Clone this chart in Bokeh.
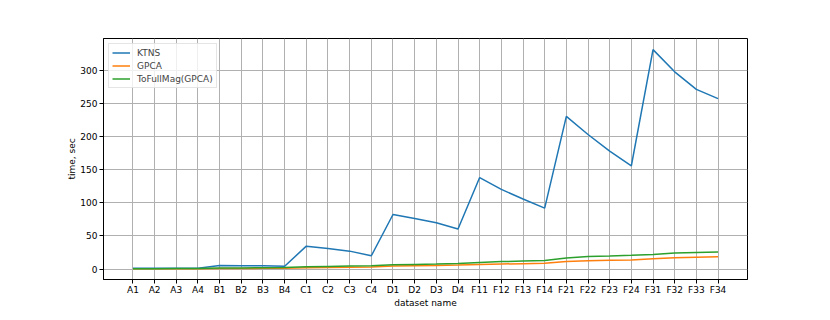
from bokeh.plotting import figure
from bokeh.models import FactorRange, Range1d, FixedTicker, Legend, LegendItem
from bokeh.embed import file_html
from bokeh.resources import INLINE

datasets = ["A1", "A2", "A3", "A4", "B1", "B2", "B3", "B4",
            "C1", "C2", "C3", "C4", "D1", "D2", "D3", "D4",
            "F11", "F12", "F13", "F14", "F21", "F22", "F23", "F24",
            "F31", "F32", "F33", "F34"]
ktns = [1.0, 1.0, 1.0, 1.0, 5.5, 5.0, 4.8, 4.3,
        34.5, 30.8, 27.0, 20.0, 82.3, 76.3, 69.9, 60.3,
        138.0, 120.2, 105.6, 91.8, 230.2, 203.0, 178.0, 155.8,
        331.0, 297.5, 271.0, 257.0]
gpca = [0.3, 0.3, 0.4, 0.4, 0.8, 0.9, 1.0, 1.1,
        2.0, 2.3, 2.6, 3.0, 4.5, 5.0, 5.5, 6.0,
        7.0, 7.6, 8.1, 8.6, 11.2, 12.5, 13.2, 13.7,
        15.6, 17.0, 17.8, 18.6]
tofullmag = [0.5, 0.6, 0.7, 0.8, 1.5, 1.7, 1.9, 2.2,
             3.5, 4.0, 4.4, 4.8, 6.5, 7.0, 7.5, 8.2,
             10.0, 11.2, 12.0, 12.8, 16.6, 19.0, 19.6, 20.6,
             22.0, 24.0, 25.0, 25.6]
y_ticks = [0, 50, 100, 150, 200, 250, 300]
series_names = ["KTNS", "GPCA", "ToFullMag(GPCA)"]
colors = ["#1f77b4", "#ff7f0e", "#2ca02c"]

FONT = "DejaVu Sans"

p = figure(width=830, height=320, output_backend="svg", toolbar_location=None,
           x_range=FactorRange(factors=datasets, range_padding=0.86,
                               range_padding_units="absolute"),
           y_range=Range1d(-15.8, 347.8),
           min_border_left=103, min_border_right=83,
           min_border_top=38, min_border_bottom=41)

p.background_fill_color = "white"
p.border_fill_color = "white"
p.outline_line_color = "black"
p.outline_line_width = 1

renderers = []
for name, ys, c in zip(series_names, [ktns, gpca, tofullmag], colors):
    r = p.line(x=datasets, y=ys, line_color=c, line_width=1.5)
    renderers.append(r)

p.yaxis.ticker = FixedTicker(ticks=y_ticks)
p.xgrid.grid_line_color = "#b0b0b0"
p.ygrid.grid_line_color = "#b0b0b0"
p.xgrid.grid_line_width = 1
p.ygrid.grid_line_width = 1

for ax in (p.xaxis[0], p.yaxis[0]):
    ax.axis_line_color = "black"
    ax.major_tick_line_color = "black"
    ax.major_tick_out = 4
    ax.major_tick_in = 0
    ax.minor_tick_line_color = None
    ax.major_label_text_font = FONT
    ax.major_label_text_font_size = "9px"
    ax.major_label_text_color = "black"
    ax.axis_label_text_font = FONT
    ax.axis_label_text_font_size = "9px"
    ax.axis_label_text_font_style = "normal"
    ax.axis_label_text_color = "black"
    ax.major_label_standoff = 2
    ax.axis_label_standoff = 0

p.xaxis.major_label_standoff = 1

p.xaxis.axis_label = "dataset name"
p.yaxis.axis_label = "time, sec"

legend = Legend(items=[LegendItem(label=n, renderers=[r]) for n, r in zip(series_names, renderers)],
                location="top_left")
legend.margin = 5
legend.padding = 3
legend.spacing = 2
legend.glyph_width = 18
legend.glyph_height = 11
legend.label_height = 11
legend.label_standoff = 7
legend.label_text_font = FONT
legend.label_text_font_size = "9px"
legend.border_line_color = "#cccccc"
legend.background_fill_alpha = 0.8
p.add_layout(legend)

open("out.html", "w").write(file_html(p, INLINE))
